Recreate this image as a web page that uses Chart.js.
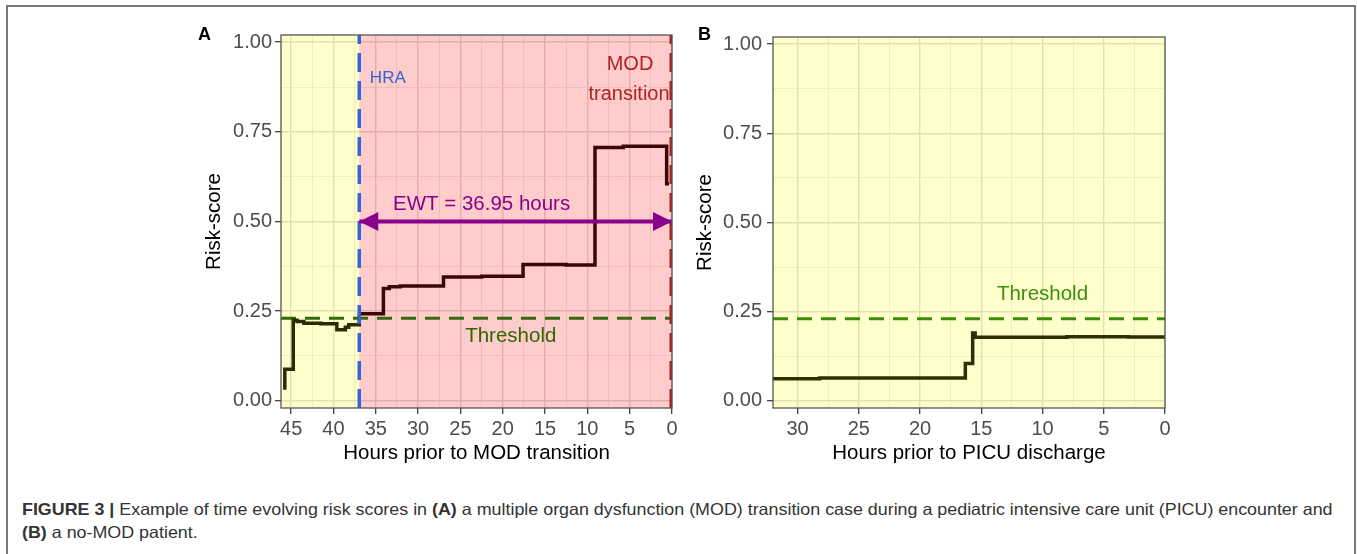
<!DOCTYPE html>
<html>
<head>
<meta charset="utf-8">
<script src="https://cdn.jsdelivr.net/npm/chart.js@4.4.1/dist/chart.umd.min.js"></script>
<style>
  body { margin: 0; background: #fff; width: 1357px; height: 554px; overflow: hidden; position: relative;
         font-family: "Liberation Sans", Arial, sans-serif; }
  #frame { position: absolute; left: 6px; top: 5px; width: 1346px; height: 640px; border: 2px solid #777; border-bottom: none; }
  canvas { position: absolute; }
  .tag { position: absolute; font-weight: bold; font-size: 18px; line-height: 18px; color: #000; }
  .caption { position: absolute; left: 22px; font-family: "Liberation Sans", Arial, sans-serif;
             font-size: 16.5px; line-height: 20px; color: #333; white-space: nowrap; transform-origin: 0 0; }
</style>
</head>
<body>
<div id="frame"></div>
<canvas id="chartA" width="500" height="450" style="left:190px;top:20px"></canvas>
<canvas id="chartB" width="500" height="450" style="left:690px;top:20px"></canvas>
<div class="tag" style="left:198px;top:25px">A</div>
<div class="tag" style="left:698px;top:25px">B</div>
<div class="caption" id="cap1" style="top:499px"><b>FIGURE 3 |</b> Example of time evolving risk scores in <b>(A)</b> a multiple organ dysfunction (MOD) transition case during a pediatric intensive care unit (PICU) encounter and</div>
<div class="caption" id="cap2" style="top:522px"><b>(B)</b> a no-MOD patient.</div>
<script>
// panel A: hours before MOD transition, risk score (step changes)
const hoursA = [45.95, 45.75, 44.75, 44.3, 43.5, 41.5, 39.6, 38.6, 38.2, 36.95, 34.1, 33.4, 32.1, 27.0, 22.5, 17.6, 12.5, 9.1, 5.75, 0.63, 0.35];
const scoreA = [0.036, 0.088, 0.225, 0.221, 0.216, 0.215, 0.198, 0.205, 0.212, 0.243, 0.313, 0.318, 0.320, 0.345, 0.347, 0.380, 0.379, 0.706, 0.710, 0.605, 0.605];
// panel B: hours before PICU discharge
const hoursB = [32.0, 28.2, 16.3, 15.7, 15.5, 8.0, 3.0, 0.0];
const scoreB = [0.062, 0.064, 0.105, 0.190, 0.178, 0.180, 0.179, 0.179];

const yTicks = [0, 0.25, 0.5, 0.75, 1];
const xTicksA = [45, 40, 35, 30, 25, 20, 15, 10, 5, 0];
const xTicksB = [30, 25, 20, 15, 10, 5, 0];

const threshold = 0.23;
const hraHours = 36.95;
const modHours = 0;
const ewtLevel = 0.5;

const Y_MIN = -0.02, Y_MAX = 1.02;

function withMinor(major, min, max) {
  const step = Math.abs(major[1] - major[0]);
  const out = major.map(v => ({ value: v, minor: false }));
  const lo = Math.min(...major), hi = Math.max(...major);
  for (let v = lo - step / 2; v <= hi + step / 2; v += step) {
    if (v >= min && v <= max) out.push({ value: v, minor: true });
  }
  return out.sort((a, b) => a.value - b.value);
}

function gridOpts() {
  return {
    color: c => c.tick && c.tick.minor ? '#e6e6e6' : '#dadada',
    lineWidth: c => c.tick && c.tick.minor ? 0.8 : 1.4,
    tickColor: c => c.tick && c.tick.minor ? 'rgba(0,0,0,0)' : '#333333',
    tickWidth: 1.2,
    tickLength: 6,
    drawTicks: true
  };
}

function panelPlugin(cfg) {
  return {
    id: 'panel',
    beforeDatasetsDraw(chart) {
      const { ctx, chartArea: a, scales: { x } } = chart;
      ctx.save();
      cfg.zones.forEach(z => {
        const x1 = Math.max(a.left, Math.min(x.getPixelForValue(z.from), x.getPixelForValue(z.to)));
        const x2 = Math.min(a.right, Math.max(x.getPixelForValue(z.from), x.getPixelForValue(z.to)));
        ctx.fillStyle = z.color;
        ctx.fillRect(x1, a.top, x2 - x1, a.bottom - a.top);
      });
      ctx.restore();
    },
    afterDatasetsDraw(chart) {
      const { ctx, chartArea: a, scales: { x, y } } = chart;
      ctx.save();
      if (cfg.arrow) {
        const ay = y.getPixelForValue(cfg.arrow.y);
        const xl = x.getPixelForValue(cfg.arrow.from);
        const xr = x.getPixelForValue(cfg.arrow.to);
        ctx.fillStyle = cfg.arrow.color;
        ctx.beginPath();
        ctx.moveTo(xl, ay); ctx.lineTo(xl + 19, ay - 9.5); ctx.lineTo(xl + 19, ay + 9.5); ctx.closePath();
        ctx.moveTo(xr, ay); ctx.lineTo(xr - 19, ay - 9.5); ctx.lineTo(xr - 19, ay + 9.5); ctx.closePath();
        ctx.fill();
      }
      cfg.labels.forEach(l => {
        ctx.font = l.font;
        ctx.fillStyle = l.color;
        ctx.textAlign = l.align || 'center';
        ctx.textBaseline = 'middle';
        ctx.fillText(l.text, x.getPixelForValue(l.x), y.getPixelForValue(l.y));
      });
      ctx.strokeStyle = '#555';
      ctx.lineWidth = 1.3;
      ctx.strokeRect(a.left, a.top, a.right - a.left, a.bottom - a.top);
      ctx.restore();
    }
  };
}

function makeChart(id, cfg) {
  return new Chart(document.getElementById(id), {
    type: 'line',
    data: { datasets: cfg.datasets },
    options: {
      responsive: false,
      animation: false,
      layout: { padding: { top: 14, right: cfg.padRight, left: 0, bottom: 0 } },
      elements: { point: { radius: 0 }, line: { tension: 0 } },
      plugins: { legend: { display: false }, tooltip: { enabled: false } },
      scales: {
        x: {
          type: 'linear', reverse: true, min: 0, max: cfg.xMax,
          afterBuildTicks: s => { s.ticks = withMinor(cfg.xTicks, 0, cfg.xMax); },
          afterFit: s => { s.height = 62; },
          ticks: {
            autoSkip: false, maxRotation: 0, padding: 3, color: '#4d4d4d',
            font: { family: 'Liberation Sans', size: 20 },
            callback: (v, i, t) => t[i].minor ? '' : String(v)
          },
          grid: gridOpts(),
          border: { display: false },
          title: { display: true, text: cfg.xTitle, color: '#000',
                   font: { family: 'Liberation Sans', size: 20.5 }, padding: { top: 0, bottom: 4 } }
        },
        y: {
          type: 'linear', min: Y_MIN, max: Y_MAX,
          afterBuildTicks: s => { s.ticks = withMinor(yTicks, Y_MIN, Y_MAX); },
          afterFit: s => { s.width = cfg.yWidth; },
          ticks: {
            autoSkip: false, padding: cfg.yPad, color: '#4d4d4d',
            font: { family: 'Liberation Sans', size: 20 },
            callback: (v, i, t) => t[i].minor ? '' : v.toFixed(2)
          },
          grid: gridOpts(),
          border: { display: false },
          title: { display: true, text: 'Risk-score', color: '#000',
                   font: { family: 'Liberation Sans', size: 20.5 }, padding: { top: cfg.yTitlePad, bottom: 0 } }
        }
      }
    },
    plugins: [panelPlugin(cfg)]
  });
}

const pts = (xs, ys) => xs.map((v, i) => ({ x: v, y: ys[i] }));
const YELLOW = 'rgba(255,255,0,0.2)';
const PINK = 'rgba(255,0,0,0.2)';

makeChart('chartA', {
  xMax: 46.2, xTicks: xTicksA, padRight: 18, yWidth: 91, yPad: 3, yTitlePad: 12.4,
  xTitle: 'Hours prior to MOD transition',
  zones: [{ from: 46.2, to: hraHours, color: YELLOW }, { from: hraHours, to: modHours, color: PINK }],
  arrow: { y: ewtLevel, from: hraHours, to: modHours, color: '#8b008b' },
  labels: [
    { text: 'HRA', x: 35.7, y: 0.9, align: 'left', color: '#3366cc', font: '17px "Liberation Sans"' },
    { text: 'MOD', x: 4.96, y: 0.938, color: '#b22222', font: '20px "Liberation Sans"' },
    { text: 'transition', x: 5.08, y: 0.855, color: '#b22222', font: '20px "Liberation Sans"' },
    { text: 'EWT = 36.95 hours', x: 22.5, y: 0.549, color: '#8b008b', font: '20.5px "Liberation Sans"' },
    { text: 'Threshold', x: 19.05, y: 0.179, color: '#2f6400', font: '20.5px "Liberation Sans"' }
  ],
  datasets: [
    { data: pts([hraHours, modHours], [ewtLevel, ewtLevel]), borderColor: '#8b008b', borderWidth: 4, order: 0 },
    { data: pts([hraHours, hraHours], [Y_MIN, Y_MAX]), borderColor: '#3a62d8', borderWidth: 3.5, borderDash: [19, 9], clip: 0, order: 1 },
    { data: pts([modHours, modHours], [Y_MIN, Y_MAX]), borderColor: '#b01c1c', borderWidth: 5, borderDash: [19, 9], clip: 0, order: 2 },
    { data: pts(hoursA, scoreA), stepped: 'before', borderWidth: 3.5, order: 3,
      segment: { borderColor: c => c.p0.parsed.x > hraHours ? '#2b2b05' : '#380707' } },
    { data: pts([46.2, 0], [threshold, threshold]), borderColor: '#336b0a', borderWidth: 3, borderDash: [15, 9], order: 4 }
  ]
});

makeChart('chartB', {
  xMax: 32, xTicks: xTicksB, padRight: 25, yWidth: 83, yPad: 5, yTitlePad: 3,
  xTitle: 'Hours prior to PICU discharge',
  zones: [{ from: 32, to: 0, color: YELLOW }],
  labels: [
    { text: 'Threshold', x: 10.0, y: 0.299, color: '#3a8f10', font: '20.5px "Liberation Sans"' }
  ],
  datasets: [
    { data: pts(hoursB, scoreB), stepped: 'before', borderColor: '#2e2e08', borderWidth: 3.5, order: 1 },
    { data: pts([32, 0], [threshold, threshold]), borderColor: '#3a8c0a', borderWidth: 3, borderDash: [15, 9], order: 2 }
  ]
});

// fit caption to the figure width
const cap1 = document.getElementById('cap1'), cap2 = document.getElementById('cap2');
const k = 1311 / cap1.scrollWidth;
cap1.style.transform = `scaleX(${k})`;
cap2.style.transform = `scaleX(${k})`;
</script>
</body>
</html>
